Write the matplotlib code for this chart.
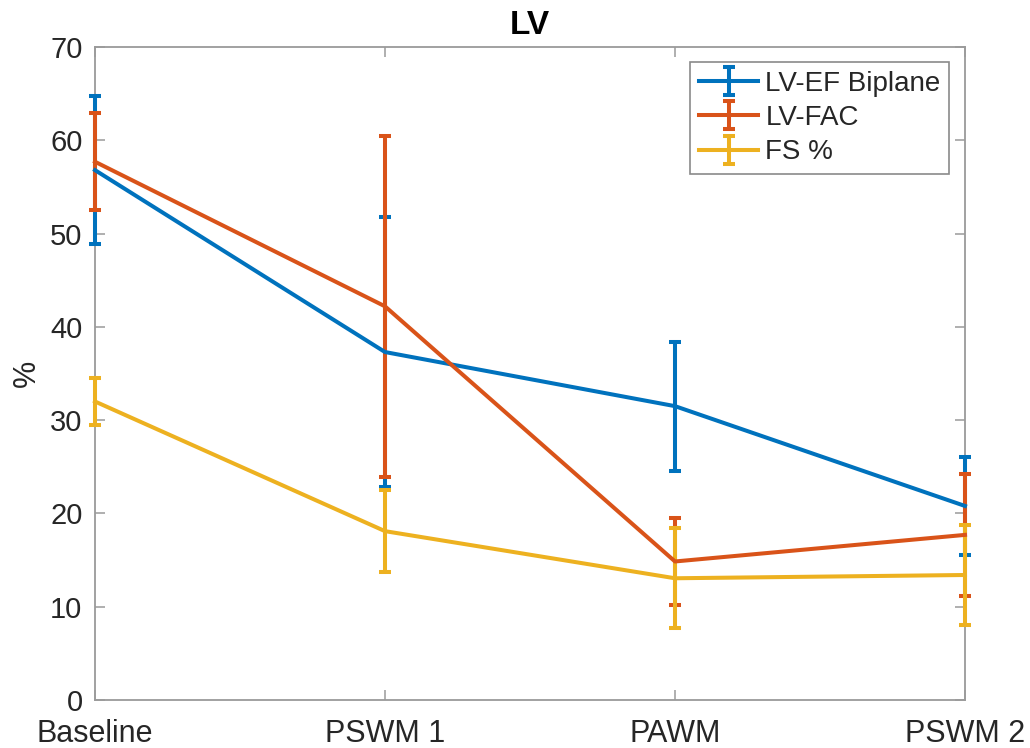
import matplotlib
matplotlib.use("Agg")
import matplotlib.pyplot as plt

plt.rcParams['font.family'] = ['Liberation Sans', 'DejaVu Sans']

stages = ["Baseline", "PSWM 1", "PAWM", "PSWM 2"]

ef_biplane = [56.8, 37.3, 31.5, 20.8]
ef_biplane_err = [7.9, 14.5, 6.9, 5.25]

fac = [57.7, 42.2, 14.85, 17.7]
fac_err = [5.2, 18.3, 4.65, 6.5]

fs_pct = [32.0, 18.1, 13.05, 13.4]
fs_pct_err = [2.5, 4.4, 5.35, 5.4]

series_names = ["LV-EF Biplane", "LV-FAC", "FS %"]
colors = ["#0072BD", "#D95319", "#EDB120"]

y_ticks = [0, 10, 20, 30, 40, 50, 60, 70]

fig = plt.figure(figsize=(10.3, 7.48), dpi=100)
ax = fig.add_axes([95 / 1030, 1 - 700 / 748, 870 / 1030, 653 / 748])

x = list(range(len(stages)))
for vals, errs, name, c in zip([ef_biplane, fac, fs_pct],
                               [ef_biplane_err, fac_err, fs_pct_err],
                               series_names, colors):
    cont = ax.errorbar(x, vals, yerr=errs, color=c, lw=2.9, elinewidth=2.9,
                       capsize=4.3, capthick=2.9, label=name)
    for artist in cont.get_children():
        artist.set_clip_on(False)

ax.set_xlim(0, len(stages) - 1)
ax.set_ylim(0, 70)
ax.set_xticks(x)
ax.set_xticklabels(stages)
ax.set_yticks(y_ticks)

spine_col = "#9a9a9a"
for s in ax.spines.values():
    s.set_color(spine_col)
    s.set_linewidth(1.3)
    s.set_zorder(0.5)

ax.tick_params(axis='both', direction='in', length=7, width=1.1,
               color=spine_col, labelcolor="#262626", labelsize=22,
               top=True, right=True)
ax.tick_params(axis='x', pad=14)
ax.tick_params(axis='y', pad=9)
ax.tick_params(axis='y', labelsize=21)

ax.set_ylabel("%", fontsize=22, color="#262626", labelpad=6)
ax.set_title("LV", fontsize=24, fontweight='bold', color="#000000", pad=9)

leg = ax.legend(loc='upper right', bbox_to_anchor=(0.988, 0.985),
                fontsize=20, frameon=True, fancybox=False,
                edgecolor="#8a8a8a", framealpha=1, borderpad=0.3,
                handlelength=2.15, handletextpad=0.25, labelspacing=0.3,
                borderaxespad=0.2)
leg.get_frame().set_linewidth(1.2)
for t in leg.get_texts():
    t.set_color("#262626")

fig.savefig("out.png", dpi=100)
